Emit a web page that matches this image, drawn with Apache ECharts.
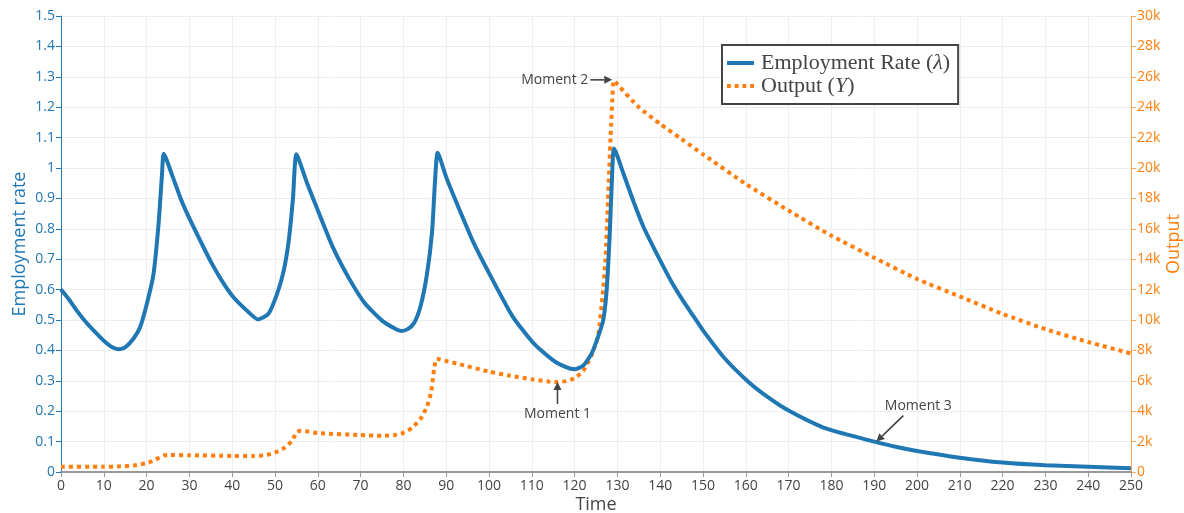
<!DOCTYPE html>
<html>
<head>
<meta charset="utf-8">
<script src="https://cdn.jsdelivr.net/npm/echarts@6/dist/echarts.min.js"></script>
<style>html,body{margin:0;padding:0;background:#fff}#c{width:1184px;height:513px}</style>
</head>
<body>
<div id="c"></div>
<script>
// ---- data ----
const empTime = [0,2,4,6,8,10,12,13.5,15,17,18.5,20,21.6,22.8,23.6,24,26,28,30,32.5,35,37.5,40,43.5,46,48.5,50.5,52,53.2,54.2,55,57.5,60,63.5,67.5,71,75,78,79.5,81,82.5,84,85.5,86.7,87.4,88,90,92.5,96.5,100.5,105.5,110.5,115,118,120,122,124,125.5,126.7,127.5,128.2,128.8,129.2,131.4,133.8,136.1,138.4,140.8,143.1,145.4,147.8,150,155,160.5,165,170,178,184,190,195,200,210,220,230,240,250];
const employment = [0.600,0.565,0.525,0.490,0.460,0.432,0.410,0.404,0.410,0.440,0.477,0.550,0.650,0.817,0.980,1.047,0.975,0.898,0.834,0.762,0.692,0.631,0.580,0.530,0.502,0.521,0.587,0.660,0.760,0.900,1.045,0.950,0.861,0.740,0.632,0.555,0.498,0.472,0.464,0.470,0.490,0.545,0.650,0.790,0.960,1.050,0.970,0.883,0.751,0.641,0.512,0.422,0.367,0.345,0.338,0.350,0.390,0.445,0.500,0.600,0.780,0.990,1.064,0.982,0.888,0.806,0.740,0.674,0.614,0.562,0.512,0.466,0.375,0.298,0.248,0.202,0.147,0.122,0.100,0.083,0.069,0.047,0.031,0.022,0.017,0.012];
const outTime = [0,10,14,17,20,22,24,25,30,40,45,48,50,52,54,55,56,60,70,75,78,80,82,84,85.5,86.5,87.2,87.8,90,92.5,100,105,110,114,116,118,120,122,124,125.5,126.5,127.2,127.8,128.4,129,129.3,130,135,140,145,150,160,170,180,190,200,210,220,230,240,250];
const output = [340,340,370,430,580,800,1080,1120,1100,1060,1050,1120,1280,1550,2050,2600,2720,2560,2430,2380,2430,2570,2900,3500,4300,5300,6800,7450,7300,7130,6600,6330,6100,5950,5920,5980,6170,6650,7700,9000,11500,14000,17800,22000,25500,25750,25500,24000,22900,21900,20900,18950,17200,15550,14100,12700,11550,10400,9400,8550,7800];
const seriesNames = ['Employment Rate (λ)', 'Output (Y)'];
const xTitle = 'Time', yLeftTitle = 'Employment rate', yRightTitle = 'Output';
// annotations: [label, series index, t, value, dx, dy] (dx,dy = arrow tail offset in px)
const notes = [
  ['Moment 1', 1, 116, 5920, 0, 22],
  ['Moment 2', 1, 128.8, 25800, -22, 0],
  ['Moment 3', 0, 190.5, 0.100, 27, -26]
];

const BLUE = '#1f77b4', ORANGE = '#ff7f0e';
const chart = echarts.init(document.getElementById('c'), null, {renderer: 'canvas'});
const font = '"Open Sans", sans-serif';

chart.setOption({
  animation: false,
  grid: {left: 61, right: 53, top: 16, bottom: 41, containLabel: false, outerBoundsMode: 'none'},
  legend: {
    left: 722, top: 45, orient: 'vertical',
    padding: [7, 8, 7, 5],
    borderColor: '#444', borderWidth: 2, backgroundColor: '#fff',
    itemWidth: 27, itemHeight: 4, itemGap: 1,
    data: [
      {name: seriesNames[0], icon: 'rect', itemStyle: {color: BLUE}},
      {name: seriesNames[1], icon: 'path://M0,0h4v4h-4zM8,0h4v4h-4zM16,0h4v4h-4zM24,0h4v4h-4z', itemStyle: {color: ORANGE}}
    ],
    formatter: function (n) {
      return n === seriesNames[0] ? '{r|Employment Rate (}{i|λ}{r|)}' : '{r|Output (}{i|Y}{r|)}';
    },
    textStyle: {
      color: '#444', fontFamily: '"Liberation Serif", serif', fontSize: 22, padding: [0, 0, 0, 2],
      rich: {
        r: {fontFamily: '"Liberation Serif", serif', fontSize: 22, color: '#444', lineHeight: 23},
        i: {fontFamily: '"Liberation Serif", serif', fontSize: 22, fontStyle: 'italic', color: '#444', lineHeight: 23}
      }
    }
  },
  xAxis: {
    type: 'value', min: 0, max: 250, interval: 10,
    name: xTitle, nameLocation: 'middle', nameGap: 24, nameMoveOverlap: false,
    nameTextStyle: {color: '#444', fontSize: 18, fontFamily: font},
    axisLine: {show: true, onZero: false, lineStyle: {color: '#999', width: 2}},
    axisTick: {show: true, length: 5, lineStyle: {color: '#999'}},
    axisLabel: {color: '#444', fontSize: 14, fontFamily: font, margin: 7},
    splitLine: {show: true, lineStyle: {color: '#eeeeee', width: 1}}
  },
  yAxis: [{
    type: 'value', min: 0, max: 1.5, interval: 0.1, position: 'left',
    name: yLeftTitle, nameLocation: 'middle', nameGap: 32, nameMoveOverlap: false,
    nameTextStyle: {color: BLUE, fontSize: 18, fontFamily: font},
    axisLine: {show: true, lineStyle: {color: BLUE, width: 1}},
    axisTick: {show: true, length: 5, lineStyle: {color: BLUE}},
    axisLabel: {color: BLUE, fontSize: 14, fontFamily: font, margin: 6,
      formatter: v => String(Math.round(v * 10) / 10)},
    splitLine: {show: true, lineStyle: {color: '#eeeeee', width: 1}}
  }, {
    type: 'value', min: 0, max: 30000, interval: 2000, position: 'right',
    name: yRightTitle, nameLocation: 'middle', nameGap: 34, nameRotate: 90, nameMoveOverlap: false,
    nameTextStyle: {color: ORANGE, fontSize: 18, fontFamily: font},
    axisLine: {show: true, lineStyle: {color: '#ffa85a', width: 1}},
    axisTick: {show: true, length: 5, lineStyle: {color: '#ffa85a'}},
    axisLabel: {color: ORANGE, fontSize: 14, fontFamily: font, margin: 6,
      formatter: v => v === 0 ? '0' : (v / 1000) + 'k'},
    splitLine: {show: false}
  }],
  series: [{
    name: seriesNames[0], type: 'line', yAxisIndex: 0,
    data: empTime.map((t, i) => [t, employment[i]]),
    showSymbol: false, symbol: 'none', smooth: 0.2,
    lineStyle: {color: BLUE, width: 4}, itemStyle: {color: BLUE}, z: 3
  }, {
    name: seriesNames[1], type: 'line', yAxisIndex: 1,
    data: outTime.map((t, i) => [t, output[i]]),
    showSymbol: false, symbol: 'none', smooth: 0.2,
    lineStyle: {color: ORANGE, width: 4, type: [4, 4]}, itemStyle: {color: ORANGE}, z: 2
  }]
});

// annotations anchored to data points
const g = [];
notes.forEach(([label, si, t, v, dx, dy]) => {
  const p = chart.convertToPixel({xAxisIndex: 0, yAxisIndex: si}, [t, v]);
  const hx = p[0], hy = p[1], tx = hx + dx, ty = hy + dy;
  const len = Math.hypot(dx, dy), ux = -dx / len, uy = -dy / len; // unit vector tail->head
  const ah = 8, aw = 4;
  const bx = hx - ux * ah, by = hy - uy * ah;
  g.push({type: 'line', shape: {x1: tx, y1: ty, x2: bx, y2: by}, style: {stroke: '#444', lineWidth: 1.6}, z: 20});
  g.push({type: 'polygon', shape: {points: [[hx, hy], [bx - uy * aw, by + ux * aw], [bx + uy * aw, by - ux * aw]]}, style: {fill: '#444'}, z: 20});
  let txt = {type: 'text', z: 21, style: {text: label, fill: '#444', font: '14px "Open Sans", sans-serif'}};
  if (dy > 0 && dx === 0) { txt.style.x = tx; txt.style.y = ty + 10; txt.style.align = 'center'; txt.style.verticalAlign = 'middle'; }
  else if (dx < 0 && dy === 0) { txt.style.x = tx - 2; txt.style.y = ty; txt.style.align = 'right'; txt.style.verticalAlign = 'middle'; }
  else { txt.style.x = tx + 15; txt.style.y = ty - 10; txt.style.align = 'center'; txt.style.verticalAlign = 'middle'; }
  g.push(txt);
});
chart.setOption({graphic: g});
</script>
</body>
</html>
